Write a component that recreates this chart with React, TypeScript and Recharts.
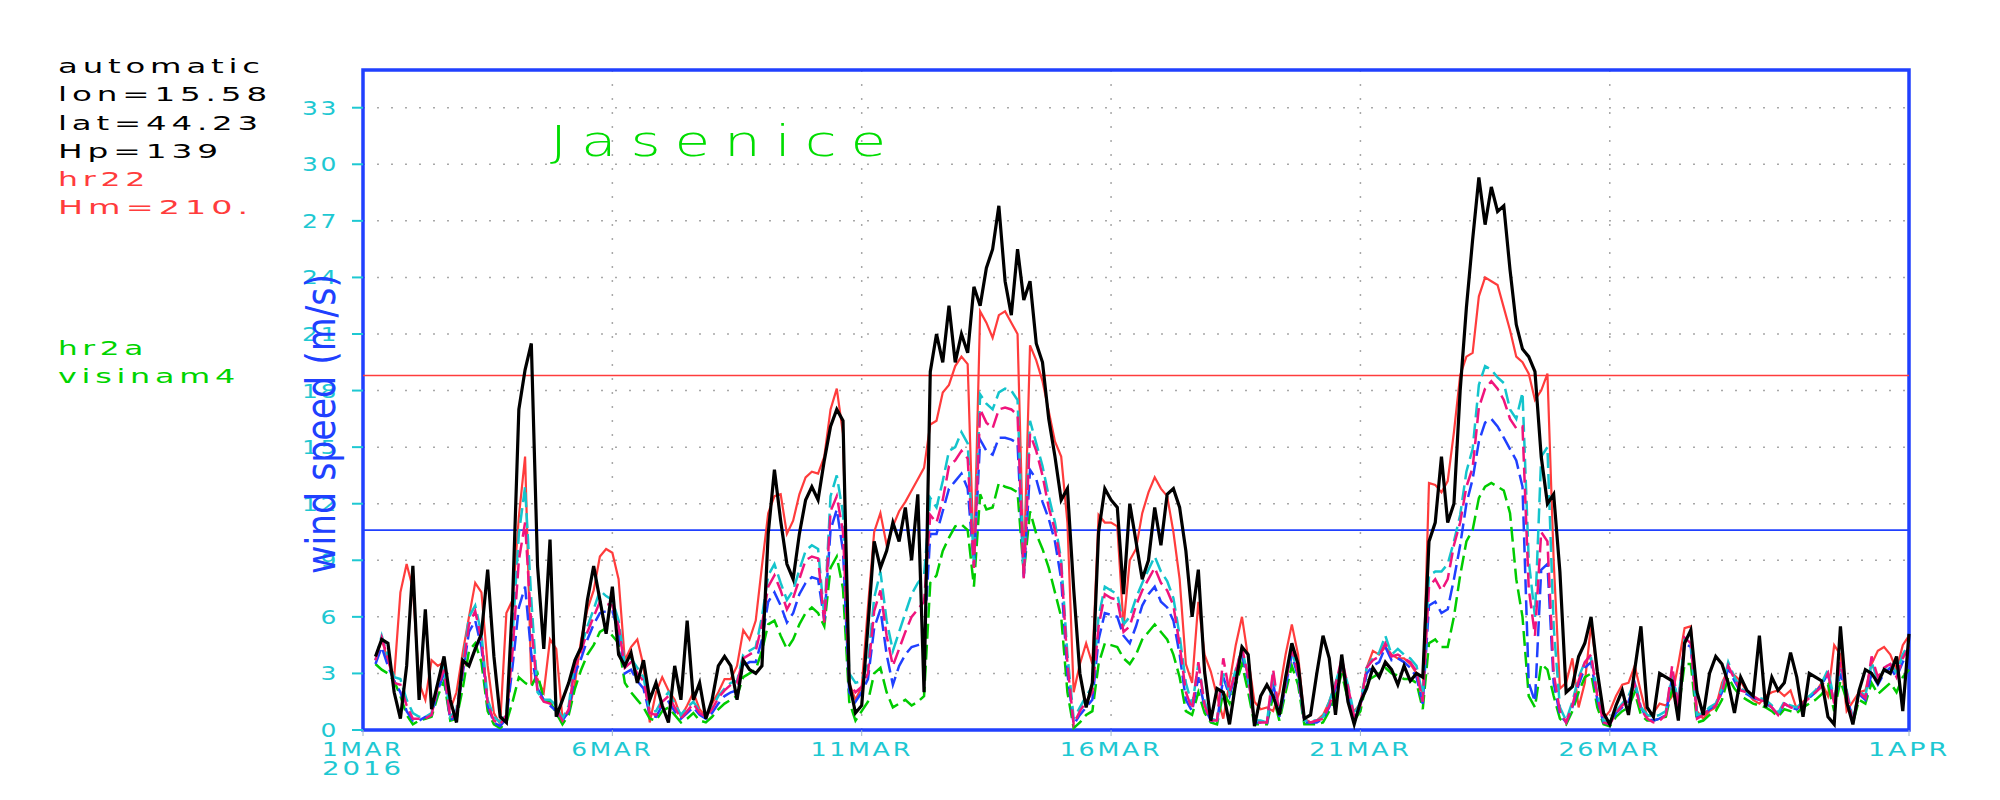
import React from 'react';
import { LineChart, Line, XAxis, YAxis, CartesianGrid, ReferenceLine, ReferenceArea } from 'recharts';

// time grid: one value every 3 hours from 1 MAR 00:00 to 1 APR 00:00
const STEP_HOURS = 3;
const xTicks = [0, 120, 240, 360, 480, 600, 744];
const xTickLabels = ['1MAR', '6MAR', '11MAR', '16MAR', '21MAR', '26MAR', '1APR'];
const yTicks = [0, 3, 6, 9, 12, 15, 18, 21, 24, 27, 30, 33];
const redLimit = 18.8;
const blueLimit = 10.6;

// observed wind speed (black)
const observed = [
  null, null, 3.9, 4.8, 4.6, 2.0, 0.6, 3.4, 8.7, 1.6,
  6.4, 1.1, 2.5, 3.9, 1.6, 0.4, 3.7, 3.4, 4.3, 5.1,
  8.5, 3.9, 0.7, 0.4, 6.9, 17.0, 19.1, 20.5, 8.7, 4.3,
  10.1, 0.7, 1.6, 2.5, 3.7, 4.4, 6.9, 8.7, 6.9, 5.1,
  7.6, 4.0, 3.4, 4.1, 2.5, 3.7, 1.6, 2.5, 1.3, 0.4,
  3.4, 1.6, 5.8, 1.6, 2.5, 0.6, 1.6, 3.4, 3.9, 3.4,
  1.6, 3.7, 3.2, 3.0, 3.4, 10.4, 13.8, 11.1, 8.8, 8.0,
  10.4, 12.2, 12.9, 12.2, 14.3, 16.1, 17.0, 16.4, 2.5, 0.9,
  1.3, 5.5, 10.0, 8.6, 9.5, 11.0, 10.0, 11.8, 9.0, 12.5,
  2.0, 19.0, 21.0, 19.5, 22.5, 19.5, 21.0, 20.0, 23.5, 22.5,
  24.5, 25.5, 27.8, 23.8, 22.0, 25.5, 22.8, 23.8, 20.5, 19.5,
  16.5, 14.5, 12.2, 12.8, 7.5, 3.0, 1.2, 2.5, 10.5, 12.8,
  12.2, 11.8, 7.2, 12.0, 10.0, 8.0, 9.0, 11.8, 9.8, 12.5,
  12.8, 11.8, 9.5, 6.0, 8.5, 3.1, 0.5, 2.2, 2.0, 0.3,
  2.5, 4.4, 4.0, 0.2, 1.8, 2.4, 1.8, 0.8, 2.8, 4.6,
  3.5, 0.6, 0.8, 3.0, 5.0, 3.8, 0.8, 4.0, 1.5, 0.3,
  1.5, 2.2, 3.3, 2.8, 3.6, 3.2, 2.4, 3.4, 2.6, 3.0,
  2.8, 10.0, 11.0, 14.5, 11.0, 12.0, 18.0, 22.4, 26.0, 29.3,
  26.8, 28.8, 27.5, 27.8, 24.4, 21.5, 20.2, 19.8, 19.0, 14.5,
  12.0, 12.5, 8.4, 2.0, 2.3, 3.9, 4.6, 6.0, 3.1, 0.9,
  0.3, 1.3, 2.1, 0.8, 3.2, 5.5, 1.2, 0.7, 3.0, 2.8,
  2.6, 0.5, 4.6, 5.3, 2.0, 0.8, 3.0, 3.9, 3.5, 2.5,
  0.9, 2.8, 2.1, 1.8, 5.0, 1.2, 2.8, 2.1, 2.5, 4.1,
  2.8, 0.7, 3.0, 2.8, 2.6, 0.7, 0.3, 5.5, 1.5, 0.3,
  2.1, 3.2, 3.0, 2.5, 3.2, 3.0, 3.9, 1.0, 5.1,
];

// hr22 model (red)
const hr22 = [
  null, null, 3.7, 4.8, 3.7, 2.8, 7.3, 8.8, 7.5, 2.5,
  1.6, 3.7, 3.4, 3.6, 1.1, 2.0, 4.1, 6.0, 7.8, 7.3,
  3.4, 0.9, 0.3, 6.2, 6.9, 11.3, 14.5, 2.5, 2.7, 2.0,
  4.8, 4.3, 0.6, 0.9, 2.5, 4.8, 6.4, 7.4, 9.2, 9.6,
  9.4, 8.0, 3.7, 4.4, 4.8, 3.4, 0.4, 2.0, 2.8, 2.1,
  1.6, 0.7, 1.3, 2.0, 1.1, 0.7, 1.4, 2.0, 2.7, 2.7,
  3.4, 5.3, 4.8, 5.8, 8.7, 11.5, 12.4, 12.5, 10.4, 11.1,
  12.5, 13.4, 13.7, 13.6, 14.5, 17.0, 18.1, 15.7, 2.5, 1.6,
  2.3, 6.5, 10.5, 11.5, 9.8, 10.8, 11.6, 12.1, 12.7, 13.3,
  13.9, 16.2, 16.4, 17.9, 18.3, 19.3, 19.8, 19.4, 8.8, 22.2,
  21.6, 20.8, 22.0, 22.2, 21.6, 21.0, 8.5, 20.4, 19.6, 18.5,
  16.9, 15.3, 14.5, 11.0, 2.0, 3.5, 4.6, 3.5, 11.4, 11.0,
  11.0, 10.8, 5.5, 9.0, 9.6, 11.5, 12.6, 13.4, 12.8, 12.4,
  10.5, 8.0, 3.5, 2.5, 6.8, 4.0, 3.1, 1.8, 0.6, 2.5,
  4.5, 6.0, 3.8, 1.5, 1.1, 1.2, 1.0, 2.0, 4.0, 5.6,
  4.0, 0.6, 0.4, 0.5, 0.8, 1.5, 2.5, 3.4, 1.6, 1.0,
  1.4, 3.3, 4.2, 4.0, 4.4, 4.0, 3.8, 3.8, 3.5, 3.0,
  1.8, 13.1, 13.0, 12.6, 13.2, 15.8, 18.8, 19.8, 20.0, 23.0,
  24.0, 23.8, 23.6, 22.4, 21.2, 19.8, 19.5, 18.9, 17.5, 18.0,
  18.9, 9.0, 2.2, 2.5, 3.8, 1.2, 2.5, 5.6, 3.0, 0.6,
  1.0, 1.8, 2.4, 2.5, 3.4, 2.0, 0.7, 0.9, 1.4, 1.3,
  1.8, 3.5, 5.4, 5.5, 1.0, 0.6, 1.0, 1.2, 2.5, 3.2,
  2.9, 2.6, 2.0, 1.6, 1.4, 1.8, 2.0, 2.1, 1.8, 2.1,
  1.1, 1.5, 1.8, 2.0, 2.5, 1.8, 4.5, 4.0, 1.0, 1.5,
  2.0, 2.1, 3.5, 4.2, 4.4, 4.0, 3.2, 4.5, 5.0,
];

// dashed model levels
const cyanDash = [
  null, null, 3.7, 5.0, 3.9, 2.8, 2.7, 1.6, 0.9, 0.7,
  0.7, 0.9, 2.5, 3.4, 0.7, 1.1, 3.4, 6.0, 6.6, 5.1,
  1.6, 0.7, 0.4, 0.9, 5.1, 10.4, 12.9, 6.9, 2.0, 1.6,
  1.6, 1.3, 0.6, 1.3, 3.7, 4.4, 5.5, 6.4, 7.4, 7.1,
  6.9, 5.8, 3.5, 3.8, 3.3, 2.8, 1.0, 1.0, 1.6, 2.0,
  1.4, 0.8, 1.2, 1.5, 1.0, 0.8, 1.2, 1.8, 2.2, 2.5,
  2.6, 4.0, 4.2, 4.4, 6.0, 8.2, 8.8, 7.8, 6.9, 7.4,
  8.5, 9.5, 9.8, 9.6, 6.0, 12.4, 13.5, 11.5, 3.0, 2.5,
  2.6, 3.5, 7.0, 8.4, 5.8, 4.2, 5.2, 6.2, 7.2, 7.8,
  8.2, 12.3, 11.8, 13.2, 14.8, 15.0, 15.8, 15.2, 8.8, 17.8,
  17.3, 17.0, 17.9, 18.1, 18.0, 17.5, 8.2, 16.4, 15.2, 14.0,
  12.4, 11.0, 9.0, 4.0, 0.6, 1.2, 1.8, 2.3, 6.0, 7.6,
  7.4, 7.2, 5.6, 6.0, 7.0, 7.8, 8.5, 9.2, 8.4, 7.9,
  7.0, 5.0, 2.5, 1.3, 3.5, 1.5, 0.6, 0.5, 3.0, 2.0,
  3.2, 4.3, 2.8, 0.5, 0.5, 0.4, 3.0, 0.8, 2.6, 4.2,
  3.0, 0.5, 0.5, 0.5, 0.7, 1.5, 2.5, 3.6, 2.4, 0.8,
  1.5, 3.3, 3.8, 4.1, 5.0, 4.0, 4.3, 4.0, 3.8, 3.4,
  1.8, 8.2, 8.4, 8.4, 8.8, 10.0, 11.4, 13.7, 14.9, 18.3,
  19.3, 19.1, 18.7, 18.4, 17.0, 16.5, 17.9, 9.0, 6.0, 14.5,
  15.0, 5.5, 1.2, 0.5, 1.5, 2.8, 3.6, 3.8, 2.0, 0.5,
  0.4, 1.0, 1.4, 1.8, 2.6, 1.2, 0.8, 0.7, 0.8, 1.0,
  3.0, 1.5, 4.8, 4.6, 0.8, 0.9, 1.2, 1.4, 2.2, 3.6,
  2.8, 2.2, 2.0, 1.8, 1.7, 1.6, 1.3, 0.9, 1.5, 1.3,
  1.2, 1.5, 1.8, 2.1, 2.5, 3.2, 1.6, 3.4, 2.1, 0.6,
  2.1, 1.8, 3.6, 2.6, 3.2, 3.6, 3.0, 4.0, 4.6,
];

const magentaDash = [
  null, null, 3.7, 4.9, 3.8, 2.5, 2.4, 1.3, 0.6, 0.6,
  0.6, 0.8, 2.3, 3.2, 0.6, 0.9, 3.2, 5.6, 6.3, 4.8,
  1.4, 0.5, 0.3, 0.8, 4.2, 9.0, 11.0, 5.5, 2.0, 1.5,
  1.4, 1.1, 0.5, 1.1, 3.4, 4.2, 5.2, 6.0, 6.8, 6.7,
  6.6, 5.5, 3.3, 3.6, 3.0, 2.6, 0.9, 0.8, 1.5, 1.8,
  1.2, 0.6, 1.0, 1.4, 0.9, 0.7, 1.1, 1.7, 2.1, 2.4,
  2.5, 3.8, 4.0, 4.2, 5.6, 7.6, 8.2, 7.4, 6.4, 7.0,
  8.0, 9.0, 9.2, 9.1, 5.7, 11.6, 12.4, 10.5, 2.5, 2.0,
  2.3, 3.0, 6.3, 7.4, 5.0, 3.4, 4.3, 5.2, 6.0, 6.4,
  6.8, 11.4, 11.0, 12.2, 14.0, 14.3, 14.8, 14.4, 8.6, 17.0,
  16.3, 16.0, 17.0, 17.1, 17.0, 16.7, 8.0, 15.7, 14.8, 13.5,
  11.8, 10.6, 8.8, 3.5, 0.3, 1.0, 1.5, 2.0, 5.5, 7.2,
  7.0, 6.9, 5.2, 5.5, 6.6, 7.4, 8.0, 8.6, 7.8, 7.4,
  6.6, 4.5, 2.0, 1.1, 3.6, 1.3, 0.5, 0.5, 3.8, 2.0,
  3.1, 4.4, 2.8, 0.4, 0.4, 0.4, 3.2, 0.8, 2.5, 4.3,
  3.0, 0.5, 0.4, 0.5, 0.6, 1.3, 2.4, 3.8, 2.3, 0.7,
  1.3, 3.3, 3.7, 3.9, 4.6, 3.9, 4.0, 3.8, 3.6, 3.1,
  1.5, 7.6, 8.0, 7.4, 8.0, 9.8, 11.0, 12.9, 13.9, 17.1,
  18.1, 18.5, 18.1, 17.5, 16.5, 16.0, 16.1, 7.5, 5.0, 10.5,
  10.0, 3.0, 1.0, 0.4, 1.3, 2.6, 3.6, 4.0, 1.8, 0.4,
  0.3, 0.9, 1.3, 1.6, 2.4, 1.1, 0.6, 0.4, 0.5, 0.8,
  3.4, 1.2, 4.9, 4.6, 0.6, 0.8, 1.1, 1.3, 2.0, 3.4,
  2.7, 2.1, 2.0, 1.8, 1.6, 1.5, 1.2, 0.8, 1.4, 1.2,
  1.1, 1.4, 1.7, 2.0, 2.3, 3.0, 1.4, 3.6, 2.0, 0.4,
  2.0, 1.7, 3.9, 2.8, 3.3, 3.5, 2.8, 3.8, 4.4,
];

const blueDash = [
  null, null, 3.5, 4.4, 3.4, 2.6, 2.0, 1.0, 0.5, 0.5,
  0.7, 0.8, 2.1, 3.0, 0.5, 0.8, 3.0, 5.2, 5.8, 4.4,
  1.3, 0.4, 0.2, 0.6, 3.4, 6.5, 7.6, 4.0, 2.2, 1.6,
  1.3, 1.0, 0.5, 1.0, 3.0, 3.8, 4.8, 5.6, 6.2, 6.3,
  6.3, 5.2, 3.0, 3.2, 2.6, 2.2, 0.8, 0.7, 1.3, 1.5,
  1.0, 0.6, 0.9, 1.2, 0.8, 0.6, 0.9, 1.4, 1.8, 2.0,
  2.1, 3.4, 3.6, 3.6, 4.8, 6.8, 7.3, 6.6, 5.7, 6.2,
  7.2, 7.8, 8.1, 8.0, 5.8, 10.6, 11.7, 9.5, 2.0, 1.5,
  2.0, 2.7, 5.4, 6.4, 4.0, 2.4, 3.4, 4.0, 4.4, 4.5,
  4.6, 10.4, 10.4, 11.6, 12.8, 13.2, 13.6, 12.8, 8.7, 15.4,
  14.8, 14.6, 15.5, 15.5, 15.4, 15.2, 8.1, 13.8, 13.3, 12.1,
  11.2, 10.0, 8.0, 3.0, 0.3, 0.8, 1.2, 1.6, 4.8, 6.2,
  6.1, 6.0, 5.0, 4.6, 5.5, 6.6, 7.2, 7.6, 6.8, 6.5,
  5.8, 4.0, 1.6, 1.0, 2.8, 1.2, 0.5, 0.4, 2.8, 1.8,
  3.0, 4.0, 2.6, 0.4, 0.4, 0.3, 2.5, 0.7, 2.3, 4.0,
  2.8, 0.4, 0.4, 0.4, 0.6, 1.2, 2.2, 3.4, 2.0, 0.6,
  1.2, 3.0, 3.4, 3.6, 4.4, 3.7, 3.8, 3.6, 3.3, 2.8,
  1.4, 6.6, 6.8, 6.2, 6.4, 8.0, 9.8, 12.0, 13.3, 15.3,
  16.3, 16.5, 16.1, 15.5, 14.9, 14.3, 12.9, 2.5, 1.5, 8.5,
  8.8, 2.5, 0.8, 0.4, 1.2, 2.4, 3.3, 3.6, 1.6, 0.4,
  0.3, 0.9, 1.2, 1.5, 2.5, 1.2, 0.6, 0.5, 0.6, 0.8,
  2.8, 1.4, 4.6, 4.4, 0.7, 0.8, 1.1, 1.3, 2.0, 3.3,
  2.6, 2.0, 1.9, 1.7, 1.6, 1.4, 1.2, 0.8, 1.4, 1.2,
  1.1, 1.4, 1.7, 2.0, 2.4, 3.0, 1.4, 3.0, 1.9, 0.5,
  1.9, 1.6, 3.0, 2.4, 3.0, 3.3, 2.8, 3.6, 4.2,
];

const greenDash = [
  null, null, 3.5, 3.2, 3.0, 2.6, 1.8, 0.8, 0.3, 0.5,
  0.6, 0.7, 1.8, 2.6, 0.5, 0.6, 2.2, 4.2, 4.6, 3.6,
  1.0, 0.3, 0.1, 0.4, 1.5, 2.8, 2.5, 2.3, 3.0, 1.6,
  1.5, 0.9, 0.3, 0.8, 2.2, 3.2, 4.0, 4.5, 5.2, 5.4,
  5.0, 4.6, 2.5, 2.0, 1.6, 1.2, 0.6, 0.5, 1.0, 1.2,
  0.8, 0.4, 0.6, 0.9, 0.5, 0.4, 0.7, 1.1, 1.4, 1.6,
  1.8, 2.8, 3.0, 3.2, 4.2, 5.6, 5.8, 5.0, 4.3, 4.8,
  5.6, 6.2, 6.5, 6.2, 5.5, 8.6, 9.2, 7.5, 1.5, 0.5,
  1.0, 1.5, 3.0, 3.3, 2.0, 1.2, 1.4, 1.6, 1.3, 1.5,
  1.8, 7.8, 8.2, 9.5, 10.2, 10.8, 10.9, 10.6, 7.6, 12.5,
  11.7, 11.8, 13.1, 12.9, 12.8, 12.6, 8.3, 11.6, 10.4, 9.6,
  8.6, 7.3, 6.0, 2.0, 0.1, 0.4, 0.8, 1.0, 3.5, 4.6,
  4.5, 4.4, 3.8, 3.5, 4.0, 4.8, 5.2, 5.6, 5.2, 4.8,
  4.0, 2.8, 1.0, 0.8, 2.0, 0.9, 0.4, 0.3, 2.0, 1.4,
  2.4, 3.5, 2.0, 0.3, 0.3, 0.3, 1.8, 0.5, 2.0, 3.4,
  2.4, 0.3, 0.3, 0.3, 0.4, 1.0, 1.8, 3.0, 1.6, 0.5,
  1.0, 2.6, 2.8, 3.0, 3.3, 3.0, 2.9, 2.7, 2.7, 2.5,
  1.1, 4.6, 4.8, 4.4, 4.4, 6.0, 8.2, 10.0, 10.6, 12.3,
  12.9, 13.1, 12.9, 12.7, 11.5, 8.0, 6.0, 1.8, 1.2, 3.5,
  3.2, 1.8, 0.6, 0.3, 1.0, 2.0, 2.8, 3.0, 1.2, 0.3,
  0.2, 0.7, 1.0, 1.2, 2.0, 0.8, 0.5, 0.5, 0.6, 0.7,
  2.2, 1.0, 3.5, 3.5, 0.4, 0.5, 0.8, 1.0, 1.6, 2.8,
  2.2, 1.8, 1.6, 1.4, 1.3, 1.2, 1.0, 0.7, 1.1, 1.0,
  0.9, 1.2, 1.4, 1.6, 1.9, 2.4, 1.0, 2.6, 1.6, 0.4,
  1.6, 1.4, 2.5, 1.9, 2.2, 2.5, 2.0, 2.8, 3.2,
];

const rows = observed.map((v, i) => ({
  t: i * STEP_HOURS,
  obs: v,
  hr22: hr22[i],
  cyan: cyanDash[i],
  magenta: magentaDash[i],
  blue: blueDash[i],
  green: greenDash[i],
}));

const CYAN = '#1ec8d2';
const FRAME_BLUE = '#2040ff';
const RED = '#ff3c3c';
const GREEN = '#00d400';
const FONT = "'DejaVu Sans', 'Liberation Sans', sans-serif";

// wide, lightly spaced lettering like the plotting package's stroke font
const Wide = ({ x, y, text, perChar, anchor, fill, size }: any) => {
  const w = text.length * perChar;
  const left = anchor === 'middle' ? x - w / 2 : anchor === 'end' ? x - w : x;
  return (
    <text x={left} y={y} fill={fill} fontSize={size} fontFamily={FONT} textLength={w} lengthAdjust="spacingAndGlyphs" letterSpacing={2}>
      {text}
    </text>
  );
};

const XTick = (props: any) => {
  const { x, y, payload } = props;
  const idx = xTicks.indexOf(payload.value);
  const label = xTickLabels[idx] ?? '';
  return (
    <g>
      <Wide x={x} y={y + 18} text={label} perChar={20.5} anchor="middle" fill={CYAN} size={19} />
      {idx === 0 && <Wide x={x} y={y + 37} text="2016" perChar={20.5} anchor="middle" fill={CYAN} size={19} />}
    </g>
  );
};

const YTick = (props: any) => {
  const { x, y, payload } = props;
  return <Wide x={x - 11} y={y + 7} text={String(payload.value)} perChar={18.5} anchor="end" fill={CYAN} size={19} />;
};

const infoLines = [
  { text: 'automatic', color: '#000000', y: 73, w: 207 },
  { text: 'lon=15.58', color: '#000000', y: 101, w: 214 },
  { text: 'lat=44.23', color: '#000000', y: 130, w: 205 },
  { text: 'Hp=139', color: '#000000', y: 158, w: 165 },
  { text: 'hr22', color: RED, y: 186, w: 92 },
  { text: 'Hm=210.', color: RED, y: 214, w: 195 },
  { text: 'hr2a', color: GREEN, y: 355, w: 90 },
  { text: 'visinam4', color: GREEN, y: 383, w: 182 },
];

export default function App() {
  return (
    <div style={{ position: 'absolute', left: 0, top: 0, width: 2000, height: 800, background: '#ffffff' }}>
      <LineChart width={2000} height={800} data={rows} margin={{ top: 70, right: 91, bottom: 20, left: 303 }}>
        <CartesianGrid stroke="#a8a8a8" strokeDasharray="2 12" strokeWidth={1.5} />
        <XAxis
          dataKey="t"
          type="number"
          domain={[0, 744]}
          ticks={xTicks}
          tick={<XTick />}
          tickSize={6}
          tickLine={{ stroke: '#9fb8c8' }}
          axisLine={false}
          height={50}
          interval={0}
        />
        <YAxis
          type="number"
          domain={[0, 35]}
          ticks={yTicks}
          tick={<YTick />}
          tickSize={11}
          tickLine={{ stroke: CYAN, strokeWidth: 2 }}
          axisLine={false}
          width={60}
          interval={0}
        />
        <ReferenceLine y={redLimit} stroke={RED} strokeWidth={1.6} />
        <ReferenceLine y={blueLimit} stroke={FRAME_BLUE} strokeWidth={1.6} />
        <Line dataKey="hr22" stroke={RED} strokeWidth={2.2} dot={false} isAnimationActive={false} />
        <Line dataKey="green" stroke="#00cc00" strokeWidth={2.5} strokeDasharray="15 6" dot={false} isAnimationActive={false} />
        <Line dataKey="blue" stroke="#2040ff" strokeWidth={2.5} strokeDasharray="15 6" dot={false} isAnimationActive={false} />
        <Line dataKey="cyan" stroke="#14c4cc" strokeWidth={2.5} strokeDasharray="15 6" dot={false} isAnimationActive={false} />
        <Line dataKey="magenta" stroke="#f0147c" strokeWidth={2.5} strokeDasharray="15 6" dot={false} isAnimationActive={false} />
        <Line dataKey="obs" stroke="#000000" strokeWidth={3.2} dot={false} isAnimationActive={false} />
        <ReferenceArea x1={0} x2={744} y1={0} y2={35} fill="none" fillOpacity={0} stroke={FRAME_BLUE} strokeWidth={3.5} />
      </LineChart>
      <svg width={2000} height={800} style={{ position: 'absolute', left: 0, top: 0, pointerEvents: 'none' }}>
        {infoLines.map((l) => (
          <text key={l.text} x={58} y={l.y} fill={l.color} fontSize={20} fontFamily={FONT} textLength={l.w} lengthAdjust="spacingAndGlyphs" letterSpacing={3}>
            {l.text}
          </text>
        ))}
        <text x={550} y={156} fill="#00dd00" fontSize={42} fontFamily={FONT} fontWeight={200} textLength={350} lengthAdjust="spacingAndGlyphs" letterSpacing={10}>
          Jasenice
        </text>
        <text
          transform="translate(335,424) rotate(-90)"
          textAnchor="middle"
          fill={FRAME_BLUE}
          fontSize={40}
          fontFamily="'Liberation Sans Narrow', 'DejaVu Sans Condensed', 'Liberation Sans', sans-serif"
          textLength={300}
          lengthAdjust="spacingAndGlyphs"
        >
          wind speed (m/s)
        </text>
      </svg>
    </div>
  );
}
